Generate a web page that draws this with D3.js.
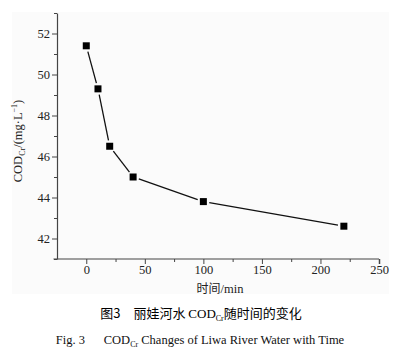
<!DOCTYPE html>
<html><head><meta charset="utf-8">
<script src="https://cdn.jsdelivr.net/npm/d3@7"></script>
<style>body{margin:0;background:#fff}svg{display:block}.serif{font-family:"Liberation Serif",serif}</style>
</head><body>
<script>
const times = [0, 10, 20, 40, 100, 220];
const codValues = [51.4, 49.3, 46.5, 45.0, 43.8, 42.6];
const xTicks = [0, 50, 100, 150, 200, 250];
const yTicks = [42, 44, 46, 48, 50, 52];

const W = 404, H = 357;
const svg = d3.select("body").append("svg").attr("width", W).attr("height", H);
svg.append("rect").attr("x", 12).attr("y", 12).attr("width", 377).attr("height", 282).attr("fill", "#fbfbfb");

const x = d3.scaleLinear().domain([-25, 250]).range([57, 379]);
const y = d3.scaleLinear().domain([41, 53]).range([259, 13]);
const serif = "Liberation Serif";
const col = "#222";

// X axis
const xAxis = d3.axisBottom(x).tickValues(xTicks).tickSize(5).tickSizeOuter(0).tickPadding(1);
const gx = svg.append("g").attr("transform", `translate(0,${y(41)})`).call(xAxis);
gx.select(".domain").attr("d", `M${x(-28)},0H${x(250)}`);
gx.selectAll(".tick").filter(d => d === 250).select("line").attr("stroke-width", 1.5);
const gxm = svg.append("g").attr("transform", `translate(0,${y(41)})`)
  .call(d3.axisBottom(x).tickValues([25, 75, 125, 175, 225]).tickSize(3).tickFormat("").tickSizeOuter(0));
gxm.select(".domain").remove();

// Y axis
const yAxis = d3.axisLeft(y).tickValues(yTicks).tickSize(5).tickSizeOuter(0).tickPadding(2);
const gy = svg.append("g").attr("transform", `translate(${x(-25)},0)`).call(yAxis);
const gym = svg.append("g").attr("transform", `translate(${x(-25)},0)`)
  .call(d3.axisLeft(y).tickValues([41, 43, 45, 47, 49, 51, 53]).tickSize(3).tickFormat("").tickSizeOuter(0));
gym.select(".domain").remove();

[gx, gxm, gy, gym].forEach(g => {
  g.attr("font-family", null).attr("class", "serif");
  g.selectAll("line").attr("stroke", "#444");
  g.selectAll(".domain").attr("stroke", "#444").attr("stroke-width", 1.2);
  g.selectAll("text").attr("font-size", 12.5).attr("fill", col);
});

// Line segments with small gaps at markers
const pts = times.map((t, i) => [x(t), y(codValues[i])]);
const gap = 6;
for (let i = 0; i < pts.length - 1; i++) {
  const [x1, y1] = pts[i], [x2, y2] = pts[i + 1];
  const dx = x2 - x1, dy = y2 - y1, L = Math.hypot(dx, dy);
  const ux = dx / L, uy = dy / L;
  svg.append("line")
    .attr("x1", x1 + ux * gap).attr("y1", y1 + uy * gap)
    .attr("x2", x2 - ux * gap).attr("y2", y2 - uy * gap)
    .attr("stroke", "#111").attr("stroke-width", 1.3);
}
const s = 7;
svg.selectAll("rect.m").data(times).enter().append("rect").attr("class", "m")
  .attr("x", (d) => x(d) - s / 2).attr("y", (d, i) => y(codValues[i]) - s / 2)
  .attr("width", s).attr("height", s).attr("fill", "#000");

// Axis titles
const xt = svg.append("text").attr("x", 220).attr("y", 293).attr("text-anchor", "middle")
  .attr("font-size", 12.5).attr("fill", col);
xt.append("tspan").attr("font-family", "Noto Sans CJK SC").attr("font-size", 12).text("时间");
xt.append("tspan").attr("class", "serif").text("/min");

const yl = svg.append("text").attr("transform", "translate(22,141) rotate(-90)")
  .attr("text-anchor", "middle").attr("class", "serif").attr("font-size", 12.5).attr("fill", col);
yl.append("tspan").text("COD");
yl.append("tspan").attr("font-size", 8).attr("dy", 3).text("Cr");
yl.append("tspan").attr("dy", -3).text("/(mg·L");
yl.append("tspan").attr("font-size", 8).attr("dy", -5).text("−1");
yl.append("tspan").attr("dy", 5).text(")");

// Captions
const c1 = svg.append("text").attr("x", 201).attr("y", 318).attr("text-anchor", "middle")
  .attr("font-size", 13).attr("fill", "#000").attr("font-family", "Noto Sans CJK SC");
c1.append("tspan").text("图3\u3000丽娃河水 ");
c1.append("tspan").attr("class", "serif").text("COD");
c1.append("tspan").attr("class", "serif").attr("font-size", 8).attr("dy", 3).text("Cr");
c1.append("tspan").attr("dy", -3).text("随时间的变化");

const c2 = svg.append("text").attr("x", 200).attr("y", 344).attr("text-anchor", "middle")
  .attr("font-size", 12.5).attr("fill", "#111").attr("class", "serif");
c2.append("tspan").text("Fig. 3\u2003\u2002COD");
c2.append("tspan").attr("font-size", 8).attr("dy", 3).text("Cr");
c2.append("tspan").attr("dy", -3).text(" Changes of Liwa River Water with Time");
</script>
</body></html>
